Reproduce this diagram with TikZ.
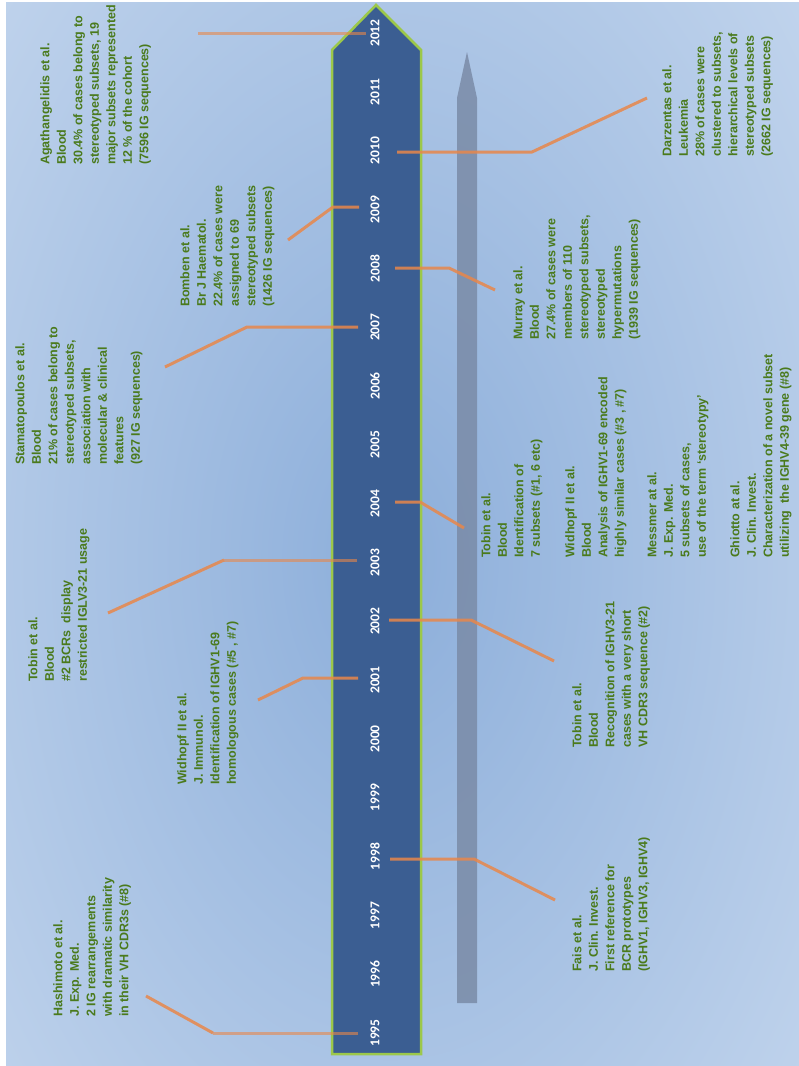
\documentclass[tikz,border=0pt]{standalone}
\usepackage{fontspec}
\setmainfont{Liberation Sans}
\newfontfamily\yearfont{Carlito}
\definecolor{bgout}{HTML}{C8D9EF}
\definecolor{bgin}{HTML}{8CAEDA}
\definecolor{arrowblue}{HTML}{3B5E92}
\definecolor{arrowgreen}{HTML}{9CC84A}
\definecolor{txtgreen}{HTML}{4A7A1C}
\definecolor{conn}{HTML}{E8874A}
\definecolor{grayarrow}{HTML}{7A8BA7}
\begin{document}
\begin{tikzpicture}[x=1pt,y=-1pt,
  ref/.style={rotate=90, anchor=north west, inner sep=0pt, text=txtgreen,
    font=\bfseries\fontsize{12.5}{16.5}\selectfont, align=left},
  yr/.style={rotate=90, text=white, font=\yearfont\bfseries\fontsize{13.5}{14}\selectfont, inner sep=0pt},
  link/.style={draw=conn, line width=3pt, opacity=0.85, line join=round},
  linklight/.style={draw=conn, line width=3pt, opacity=0.6},
]
% background
\fill[white] (0,0) rectangle (799,1066);
\fill[bgout] (6,2) rectangle (799,1065);
\begin{scope}
  \clip (6,2) rectangle (799,1065);
  \shade[inner color=bgin, outer color=bgout] (390,560) ellipse (620 and 1000);
\end{scope}
\useasboundingbox (0,0) rectangle (799,1066);

% gray arrow
\fill[grayarrow, opacity=0.85] (457,1003) -- (457,98) -- (467,52) -- (477,98) -- (477,1003) -- cycle;

% main arrow
\draw[fill=arrowblue, draw=arrowgreen, line width=2.5pt, line join=miter]
  (332,1054) -- (332,50) -- (376,5) -- (421,50) -- (421,1054) -- cycle;

% reference texts
\node[ref] (agath) at (40,165) {Agathangelidis et al.\\Blood\\30.4\% of cases belong to\\stereotyped subsets, 19\\major subsets represented\\12 \% of the cohort\\(7596 IG sequences)};
\node[ref] (bomben) at (180,307) {Bomben et al.\\Br J Haematol.\\22.4\% of cases were\\assigned to 69\\stereotyped subsets\\(1426 IG sequences)};
\node[ref] (stama) at (15,465) {Stamatopoulos et al.\\Blood\\21\% of cases belong to\\stereotyped subsets,\\association with\\molecular \& clinical\\features\\(927 IG sequences)};
\node[ref] (tobinA) at (28,682) {Tobin et al.\\Blood\\\#2 BCRs~~display\\restricted IGLV3-21 usage};
\node[ref] (widA) at (177,785) {Widhopf II et al.\\J. Immunol.\\Identification of IGHV1-69\\homologous cases (\#5 , \#7)};
\node[ref] (hashi) at (53,1017) {Hashimoto et al.\\J. Exp. Med.\\2 IG rearrangements\\with dramatic similarity\\in their VH CDR3s (\#8)};
\node[ref] (darz) at (662,157) {Darzentas et al.\\Leukemia\\28\% of cases were\\clustered to subsets,\\hierarchical levels of\\stereotyped subsets\\(2662 IG sequences)};
\node[ref] (murray) at (513,340) {Murray et al.\\Blood\\27.4\% of cases were\\members of 110\\stereotyped subsets,\\stereotyped\\hypermutations\\(1939 IG sequences)};
\node[ref] (tobinB) at (481,558) {Tobin et al.\\Blood\\Identification of\\7 subsets (\#1, 6 etc)};
\node[ref] (widB) at (565,558) {Widhopf II et al.\\Blood\\Analysis of IGHV1-69 encoded\\highly similar cases (\#3 , \#7)};
\node[ref] (messmer) at (647,558) {Messmer at al.\\J. Exp. Med.\\5 subsets of cases,\\use of the term `stereotypy'};
\node[ref] (ghiotto) at (730,558) {Ghiotto at al.\\J. Clin. Invest.\\Characterization of a novel subset\\utilizing~~the IGHV4-39 gene (\#8)};
\node[ref] (tobinC) at (572,748) {Tobin et al.\\Blood\\Recognition of IGHV3-21\\cases with a very short\\VH CDR3 sequence (\#2)};
\node[ref] (fais) at (572,972) {Fais et al.\\J. Clin. Invest.\\First reference for\\BCR prototypes\\(IGHV1, IGHV3, IGHV4)};

% connector coordinates
\coordinate (k12a) at (366,33);  \coordinate (k12b) at (198,33);
\coordinate (k10a) at (397,152); \coordinate (k10b) at (532,152); \coordinate (k10c) at (647,98);
\coordinate (k09a) at (359,207); \coordinate (k09b) at (333,207); \coordinate (k09c) at (288,240);
\coordinate (k08a) at (395,268); \coordinate (k08b) at (449,268); \coordinate (k08c) at (495,290);
\coordinate (k07a) at (358,327); \coordinate (k07b) at (247,327); \coordinate (k07c) at (165,367);
\coordinate (k04a) at (395,502); \coordinate (k04b) at (420,502); \coordinate (k04c) at (464,528);
\coordinate (k03a) at (357,560); \coordinate (k03b) at (224,560); \coordinate (k03c) at (108,613);
\coordinate (k02a) at (389,620); \coordinate (k02b) at (471,620); \coordinate (k02c) at (554,661);
\coordinate (k01a) at (358,678); \coordinate (k01b) at (303,678); \coordinate (k01c) at (258,700);
\coordinate (k98a) at (390,859); \coordinate (k98b) at (474,859); \coordinate (k98c) at (555,900);
\coordinate (k95a) at (358,1033); \coordinate (k95b) at (213,1033); \coordinate (k95c) at (146,996);

\draw[linklight] (k12a) -- (k12b);
\draw[link] (k10a) -- (k10b) -- (k10c);
\draw[link] (k09a) -- (k09b) -- (k09c);
\draw[link] (k08a) -- (k08b) -- (k08c);
\draw[link] (k07a) -- (k07b) -- (k07c);
\draw[link] (k04a) -- (k04b) -- (k04c);
\draw[linklight] (k03a) -- (k03b);
\draw[link] (k03b) -- (k03c);
\draw[link] (k02a) -- (k02b) -- (k02c);
\draw[link] (k01a) -- (k01b) -- (k01c);
\draw[link] (k98a) -- (k98b) -- (k98c);
\draw[linklight] (k95a) -- (k95b);
\draw[link] (k95b) -- (k95c);

% years
\foreach \yy [count=\i from 0] in {1995,...,2012}
  \node[yr] (y\yy) at (375,{1033-\i*58.82}) {\yy};
\end{tikzpicture}
\end{document}
